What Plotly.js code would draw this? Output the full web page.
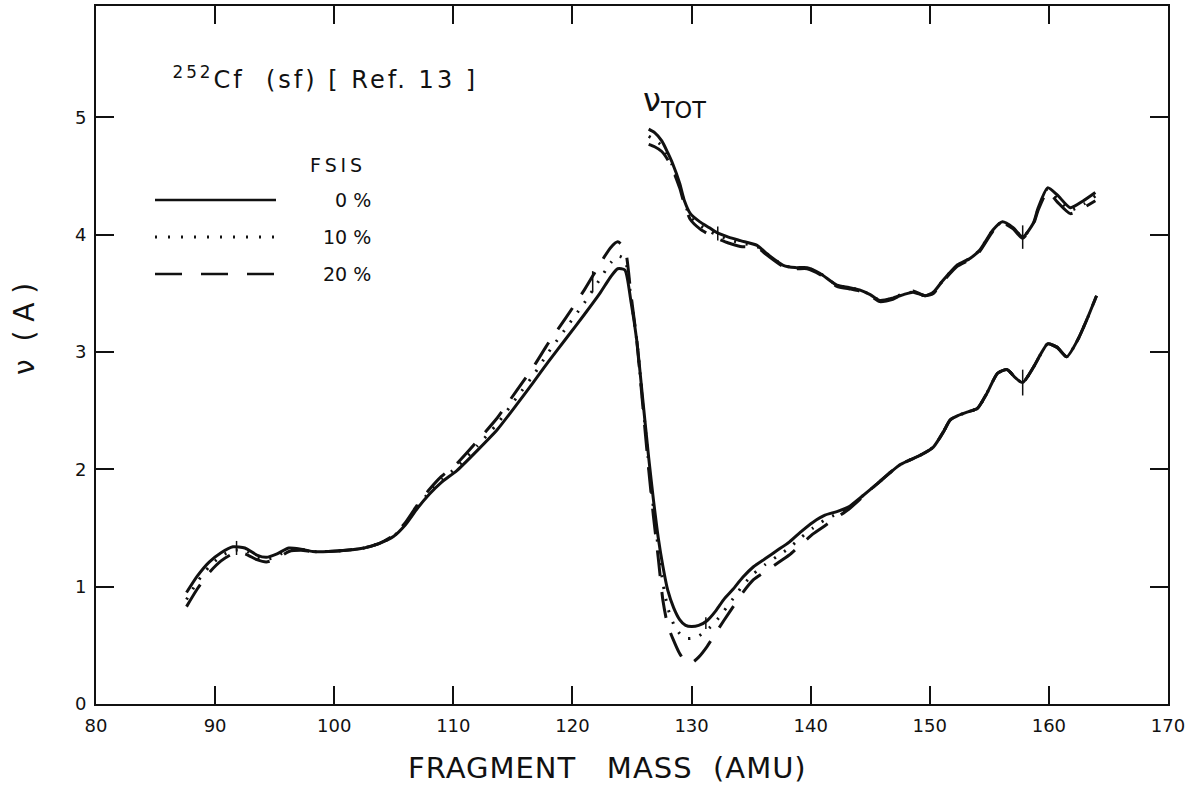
<!DOCTYPE html>
<html>
<head>
<meta charset="utf-8">
<script src="https://cdn.plot.ly/plotly-3.0.1.min.js"></script>
<style>
  html, body { margin: 0; padding: 0; background: #fff; }
  #chart { width: 1194px; height: 789px; }
  /* wide plotter-style spacing for the reaction label */
  g.annotation[data-index="2"] text.annotation-text { letter-spacing: 3px; }
  g.annotation[data-index="0"] text.annotation-text { letter-spacing: 1px; }
</style>
</head>
<body>
<div id="chart"></div>
<script>
// Neutron multiplicity vs. fragment mass, 252Cf spontaneous fission,
// for fragment-spin/isospin (FSIS) sharing of 0 %, 10 % and 20 %.

// Single-fragment branch nu(A)
const massLow = [87.6, 88.5, 89.5, 90.5, 91.5, 92.5, 93.5, 94.3, 95.2, 96.2, 97.2, 98.2, 99.5, 101, 102.5, 103.8,
  105, 106, 107, 108, 109, 110.3, 112, 113.7, 115.3, 116.7, 118, 119.5, 121, 122.3, 123.2, 123.8, 124.4, 124.9,
  125.4, 125.9, 126.4, 126.8, 127.2, 127.6, 128.0, 128.5, 129.0, 129.5, 130.0, 130.6, 131.3, 132.0, 132.7, 133.5,
  134.3, 135.2, 136.2, 137.2, 138.2, 139.2, 140.2, 141.2, 142.2, 143.2, 144.2, 145.5, 147.5, 149.2, 150.3, 151.2,
  151.7, 152.4, 153.2, 154.0, 154.8, 155.7, 156.5, 157.2, 157.8, 158.7, 159.3, 159.9, 160.7, 161.5, 162.4, 163.2, 164.0];

const nuLow0 = [0.95, 1.09, 1.21, 1.29, 1.34, 1.33, 1.27, 1.25, 1.28, 1.33, 1.32, 1.30, 1.30, 1.31, 1.33, 1.37,
  1.43, 1.53, 1.67, 1.79, 1.89, 1.99, 2.16, 2.34, 2.55, 2.74, 2.92, 3.12, 3.32, 3.50, 3.64, 3.71, 3.70, 3.44,
  3.10, 2.60, 2.10, 1.74, 1.42, 1.17, 0.97, 0.82, 0.72, 0.67, 0.66, 0.67, 0.71, 0.79, 0.89, 0.98,
  1.08, 1.17, 1.24, 1.31, 1.38, 1.47, 1.55, 1.61, 1.64, 1.68, 1.76, 1.87, 2.04, 2.12, 2.19, 2.33,
  2.42, 2.46, 2.49, 2.52, 2.65, 2.82, 2.85, 2.78, 2.74, 2.87, 2.98, 3.07, 3.04, 2.96, 3.10, 3.28, 3.48];

const nuLow10 = [0.89, 1.04, 1.17, 1.26, 1.31, 1.31, 1.25, 1.23, 1.26, 1.32, 1.32, 1.30, 1.30, 1.31, 1.33, 1.37,
  1.43, 1.54, 1.68, 1.81, 1.91, 2.02, 2.20, 2.39, 2.61, 2.80, 3.00, 3.21, 3.42, 3.62, 3.76, 3.82, 3.79, 3.47,
  3.10, 2.58, 2.05, 1.67, 1.33, 1.03, 0.82, 0.68, 0.60, 0.56, 0.56, 0.58, 0.63, 0.70, 0.79, 0.90,
  1.01, 1.11, 1.19, 1.26, 1.33, 1.42, 1.50, 1.57, 1.62, 1.67, 1.76, 1.87, 2.04, 2.12, 2.19, 2.33,
  2.42, 2.46, 2.49, 2.52, 2.65, 2.82, 2.85, 2.78, 2.74, 2.87, 2.98, 3.07, 3.04, 2.96, 3.10, 3.28, 3.48];

const nuLow20 = [0.83, 0.98, 1.12, 1.22, 1.28, 1.28, 1.23, 1.21, 1.24, 1.30, 1.31, 1.30, 1.30, 1.31, 1.33, 1.37,
  1.44, 1.55, 1.70, 1.83, 1.94, 2.05, 2.24, 2.44, 2.67, 2.87, 3.08, 3.30, 3.53, 3.75, 3.89, 3.94, 3.88, 3.50,
  3.10, 2.55, 2.00, 1.60, 1.25, 0.88, 0.67, 0.54, 0.43, 0.36, 0.35, 0.40, 0.49, 0.60, 0.71, 0.83,
  0.95, 1.06, 1.13, 1.20, 1.27, 1.36, 1.45, 1.52, 1.59, 1.66, 1.75, 1.87, 2.04, 2.12, 2.19, 2.33,
  2.42, 2.46, 2.49, 2.52, 2.65, 2.82, 2.85, 2.78, 2.74, 2.87, 2.98, 3.07, 3.04, 2.96, 3.10, 3.28, 3.48];

// Total multiplicity nu_TOT(A)
const massTot = [126.4, 126.9, 127.5, 128.0, 128.4, 129.0, 129.4, 129.9, 130.7, 131.5, 132.1, 133.1, 134.1, 135.5,
  136.3, 137.7, 138.7, 139.7, 140.8, 142.2, 143.2, 144.1, 145.0, 145.8, 146.9, 147.8, 148.6, 149.6, 150.3, 151.1,
  152.3, 153.4, 154.2, 155.3, 156.1, 157.0, 157.8, 158.7, 159.1, 159.9, 160.7, 161.8, 162.9, 163.9];

const nuTot0 = [4.90, 4.87, 4.80, 4.70, 4.61, 4.44, 4.29, 4.18, 4.11, 4.06, 4.02, 3.98, 3.95, 3.91,
  3.84, 3.74, 3.72, 3.72, 3.67, 3.57, 3.55, 3.53, 3.49, 3.44, 3.46, 3.49, 3.51, 3.48, 3.51, 3.61,
  3.74, 3.80, 3.87, 4.04, 4.11, 4.06, 3.98, 4.10, 4.23, 4.40, 4.34, 4.23, 4.29, 4.36];

const nuTot10 = [4.84, 4.81, 4.76, 4.67, 4.59, 4.42, 4.28, 4.15, 4.08, 4.03, 4.00, 3.96, 3.93, 3.90,
  3.84, 3.74, 3.72, 3.72, 3.67, 3.57, 3.55, 3.53, 3.49, 3.44, 3.46, 3.50, 3.51, 3.48, 3.51, 3.61,
  3.74, 3.80, 3.87, 4.04, 4.11, 4.06, 3.98, 4.10, 4.22, 4.39, 4.31, 4.21, 4.26, 4.33];

const nuTot20 = [4.77, 4.75, 4.71, 4.64, 4.56, 4.40, 4.26, 4.13, 4.05, 4.00, 3.97, 3.93, 3.90, 3.89,
  3.83, 3.73, 3.71, 3.71, 3.66, 3.56, 3.54, 3.52, 3.48, 3.43, 3.45, 3.50, 3.52, 3.48, 3.50, 3.60,
  3.73, 3.79, 3.86, 4.03, 4.10, 4.05, 3.97, 4.09, 4.21, 4.37, 4.28, 4.18, 4.23, 4.29];

// Representative uncertainties marked on the curves
const errMass = [91.8, 121.7, 131.2, 132.2, 157.8, 157.8];
const errNu = [1.33, 3.60, 0.69, 4.01, 2.74, 3.98];
const errHalf = [0.06, 0.09, 0.05, 0.06, 0.11, 0.10];

const xTicks = [80, 90, 100, 110, 120, 130, 140, 150, 160, 170];
const yTicks = [0, 1, 2, 3, 4, 5];
const fsisLabels = ['0 %', '10 %', '20 %'];

const INK = '#111';
const styles = [
  { width: 3, dash: 'solid' },
  { width: 3, dash: '2px,10px' },
  { width: 3, dash: '26px,16px' }
];

const low = [nuLow0, nuLow10, nuLow20];
const tot = [nuTot0, nuTot10, nuTot20];
const traces = [];
for (let i = 0; i < 3; i++) {
  traces.push({ x: massLow, y: low[i], mode: 'lines', line: { color: INK, width: styles[i].width, dash: styles[i].dash, shape: 'spline', smoothing: 0.6 }, hoverinfo: 'skip' });
  traces.push({ x: massTot, y: tot[i], mode: 'lines', line: { color: INK, width: styles[i].width, dash: styles[i].dash, shape: 'spline', smoothing: 0.6 }, hoverinfo: 'skip' });
}
traces.push({
  x: errMass, y: errNu, mode: 'markers', marker: { size: 0.1, color: INK },
  error_y: { type: 'data', array: errHalf, visible: true, color: INK, thickness: 1.5, width: 0 },
  hoverinfo: 'skip'
});

// plot area in pixels: left 96, right 1168, top 6, bottom 704
const L = 96, R = 1168, T = 6, B = 704;
const px = x => (x - L) / (R - L);
const py = y => (B - y) / (B - T);

const FONT = 'DejaVu Sans';
const annotations = [
  { text: 'FRAGMENT\u00a0\u00a0 MASS\u00a0 (AMU)', x: px(607), y: py(768), xref: 'paper', yref: 'paper',
    xanchor: 'center', yanchor: 'middle', showarrow: false, font: { family: FONT, size: 29, color: INK } },
  { text: 'ν\u00a0 (\u00a0A\u00a0)', x: px(24), y: py(329), xref: 'paper', yref: 'paper', textangle: -90,
    xanchor: 'center', yanchor: 'middle', showarrow: false, font: { family: FONT, size: 28, color: INK } },
  { text: '<sup>252</sup>Cf\u00a0 (sf)\u00a0[\u00a0Ref.\u00a013\u00a0]', x: px(205), y: py(78), xref: 'paper', yref: 'paper',
    xanchor: 'left', yanchor: 'middle', showarrow: false, font: { family: FONT, size: 24, color: INK } },
  { text: 'ν<sub>TOT</sub>', x: px(641), y: py(102), xref: 'paper', yref: 'paper',
    xanchor: 'left', yanchor: 'middle', showarrow: false, font: { family: FONT, size: 32, color: INK } },
  { text: 'F\u2009S\u2009I\u2009S', x: px(336), y: py(165), xref: 'paper', yref: 'paper',
    xanchor: 'center', yanchor: 'middle', showarrow: false, font: { family: FONT, size: 19, color: INK } }
];
const legendRows = [200, 237, 274];
const shapes = [];
for (let i = 0; i < 3; i++) {
  annotations.push({ text: fsisLabels[i], x: px(373), y: py(legendRows[i]), xref: 'paper', yref: 'paper',
    xanchor: 'right', yanchor: 'middle', showarrow: false, font: { family: FONT, size: 19, color: INK } });
  shapes.push({ type: 'line', xref: 'paper', yref: 'paper', x0: px(155), x1: px(276), y0: py(legendRows[i]), y1: py(legendRows[i]),
    line: { color: INK, width: i === 1 ? 3 : 2.5, dash: i === 0 ? 'solid' : (i === 1 ? '2px,11px' : '27px,19px') } });
}

const axisCommon = {
  showgrid: false, zeroline: false, showline: true, linecolor: INK, linewidth: 2,
  mirror: 'ticks', ticks: 'inside', ticklen: 18, tickwidth: 2, tickcolor: INK,
  tickfont: { family: FONT, size: 18, color: INK }
};

const layout = {
  width: 1194, height: 789,
  margin: { l: L, r: 1194 - R, t: T, b: 789 - B },
  paper_bgcolor: '#fff', plot_bgcolor: '#fff',
  showlegend: false,
  xaxis: Object.assign({}, axisCommon, { range: [80, 170], tickvals: xTicks, ticktext: xTicks.map(String), ticklabelstandoff: 4 }),
  yaxis: Object.assign({}, axisCommon, { range: [0, 5.95], tickvals: yTicks, ticktext: yTicks.map(String), ticklabelstandoff: 4 }),
  annotations: annotations,
  shapes: shapes
};

Plotly.newPlot('chart', traces, layout, { staticPlot: true, displayModeBar: false });
</script>
</body>
</html>
